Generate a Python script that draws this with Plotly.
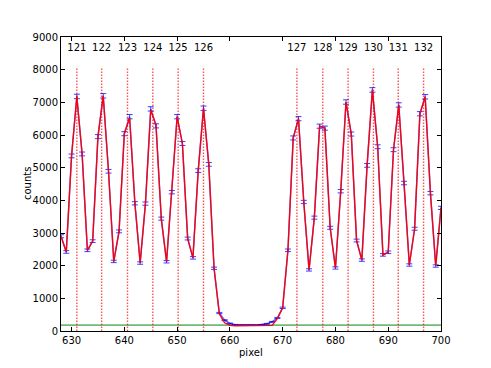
import plotly.graph_objects as go

pixels = list(range(628, 701))
counts = [2900, 2420, 5360, 7180, 5420, 2470, 2750, 5950, 7200, 4890,
          2130, 3050, 6040, 6560, 3910, 2080, 3900, 6800, 6280, 3440,
          2120, 4250, 6560, 5740, 2830, 2240, 4910, 6820, 5100, 1920,
          550, 330, 230, 190, 180, 180, 180, 180, 190, 220,
          280, 400, 710, 2470, 5910, 6500, 3950, 1870, 3470, 6270,
          6210, 3160, 1930, 4280, 7010, 6030, 2770, 2170, 5070, 7380,
          5640, 2330, 2410, 5550, 6920, 4530, 2020, 3130, 6650, 7170,
          4220, 1990, 3770]
errors = [45, 40, 58, 68, 59, 40, 42, 62, 68, 56,
          37, 44, 62, 65, 50, 37, 50, 66, 63, 47,
          37, 52, 65, 60, 43, 38, 56, 66, 57, 35,
          19, 15, 12, 11, 11, 11, 11, 11, 11, 12,
          13, 16, 21, 40, 62, 64, 50, 35, 47, 63,
          63, 45, 35, 52, 67, 62, 42, 37, 57, 69,
          60, 39, 40, 60, 66, 54, 36, 45, 65, 68,
          52, 36, 49]
model = [2900, 2420, 5360, 7180, 5420, 2470, 2750, 5950, 7200, 4890,
         2130, 3050, 6040, 6520, 3910, 2080, 3900, 6760, 6320, 3440,
         2120, 4250, 6560, 5740, 2830, 2240, 4910, 6820, 5100, 1920,
         520, 250, 170, 160, 160, 160, 160, 160, 160, 165,
         175, 380, 710, 2470, 5910, 6500, 3950, 1870, 3470, 6270,
         6210, 3160, 1930, 4280, 7010, 6030, 2770, 2170, 5070, 7380,
         5640, 2330, 2410, 5550, 6920, 4530, 2020, 3130, 6650, 7170,
         4220, 1990, 3770]
order_labels = ["121", "122", "123", "124", "125", "126",
                "127", "128", "129", "130", "131", "132"]
order_pos = [631.0, 635.7, 640.6, 645.4, 650.2, 655.0,
             672.7, 677.6, 682.4, 687.2, 691.9, 696.7]
line_bottom = 0
line_top = 8050
label_y = 8650
threshold = 180

FONT = "DejaVu Sans"

fig = go.Figure()

vx, vy = [], []
for p in order_pos:
    vx += [p, p, None]
    vy += [line_bottom, line_top, None]
fig.add_trace(go.Scatter(x=vx, y=vy, mode="lines",
                         line=dict(color="rgba(255,40,40,0.8)", width=1.4, dash="1.5px,1.5px"),
                         hoverinfo="skip", showlegend=False))

fig.add_trace(go.Scatter(x=[628, 700], y=[threshold, threshold], mode="lines",
                         line=dict(color="rgba(0,128,0,0.55)", width=1.8),
                         showlegend=False))

fig.add_trace(go.Scatter(x=pixels, y=counts, mode="lines",
                         line=dict(color="rgba(0,0,255,0.6)", width=1.5),
                         error_y=dict(type="data", array=errors, visible=True,
                                      color="rgba(0,0,255,0.75)", thickness=1, width=3),
                         showlegend=False))

fig.add_trace(go.Scatter(x=pixels, y=model, mode="lines",
                         line=dict(color="red", width=1.3),
                         showlegend=False))

fig.add_trace(go.Scatter(x=order_pos, y=[label_y] * len(order_pos), mode="text",
                         text=order_labels, textposition="middle center",
                         textfont=dict(family=FONT, size=10, color="black"),
                         showlegend=False))

axis_common = dict(showline=True, linecolor="black", linewidth=1, mirror="allticks",
                   ticks="inside", ticklen=4, tickcolor="black", showgrid=False,
                   zeroline=False, automargin=False,
                   tickfont=dict(family=FONT, size=10, color="black"))

fig.update_xaxes(range=[628, 700], tickvals=[630, 640, 650, 660, 670, 680, 690, 700],
                 **axis_common)
fig.update_yaxes(range=[0, 9000], tickvals=list(range(0, 9001, 1000)),
                 **axis_common)

fig.add_annotation(text="pixel", xref="paper", yref="paper", x=0.5, y=0,
                   yshift=-21, showarrow=False, xanchor="center", yanchor="middle",
                   font=dict(family=FONT, size=10, color="black"))
fig.add_annotation(text="counts", xref="paper", yref="paper", x=0, y=0.5,
                   xshift=-34, showarrow=False, xanchor="center", yanchor="middle",
                   textangle=-90, font=dict(family=FONT, size=10, color="black"))

fig.update_layout(width=491, height=368,
                  margin=dict(l=61, r=50, t=37, b=37),
                  paper_bgcolor="white", plot_bgcolor="white",
                  font=dict(family=FONT, size=10, color="black"))

fig.write_html("out.html", config={"displayModeBar": False},
               post_script="document.body.style.margin='0';document.body.style.overflow='hidden';")
